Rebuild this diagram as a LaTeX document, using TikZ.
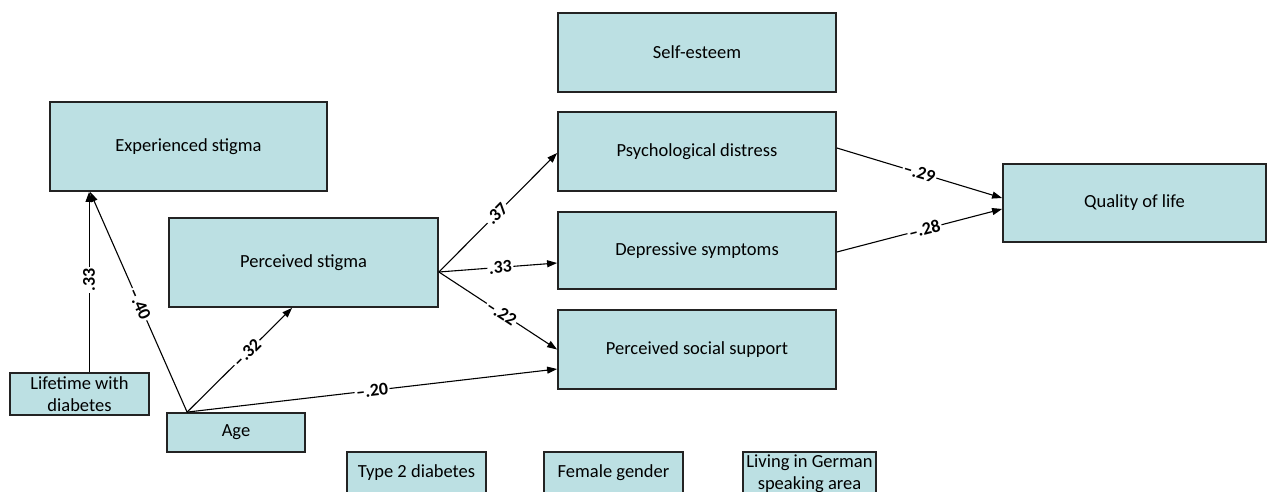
\documentclass[tikz,border=0pt]{standalone}
\usepackage{fontspec}
\setmainfont{Carlito}[BoldFont={Carlito Bold}]
\usetikzlibrary{arrows.meta}
\definecolor{boxfill}{RGB}{188,224,227}
\definecolor{boxline}{RGB}{35,35,35}
\begin{document}
\begin{tikzpicture}[x=1pt,y=-1pt,
  box/.style={draw=boxline, line width=1.8pt, fill=boxfill, inner sep=0pt, align=center,
    font=\fontsize{18.5}{22}\selectfont},
  conn/.style={draw=black, line width=1.1pt, -{Triangle[length=10pt,width=7pt]}},
  lbl/.style={fill=white, inner sep=1.5pt, sloped, font=\fontsize{18}{18}\selectfont\bfseries}]
\useasboundingbox (0,0) rectangle (1269,492);
\node[box, minimum width=278pt, minimum height=79pt] (self) at (697,52.5) {Self-esteem};
\node[box, minimum width=278pt, minimum height=79pt] (pd) at (697,151.5) {Psychological distress};
\node[box, minimum width=278pt, minimum height=77pt] (ds) at (697,250.5) {Depressive symptoms};
\node[box, minimum width=278pt, minimum height=79pt] (pss) at (697,349.5) {Perceived social support};
\node[box, minimum width=263pt, minimum height=78pt] (qol) at (1134.5,203) {Quality of life};
\node[box, minimum width=277pt, minimum height=89pt] (es) at (188.5,146.5) {Experienced stigma};
\node[box, minimum width=269pt, minimum height=89pt] (ps) at (303.5,262.5) {Perceived stigma};
\node[box, minimum width=139pt, minimum height=42pt] (life) at (79.5,394) {Lifetime with\\diabetes};
\node[box, minimum width=138pt, minimum height=39pt] (age) at (236,432.5) {Age};
\node[box, minimum width=139pt, minimum height=41pt] (t2d) at (416.5,472.5) {Type 2 diabetes};
\node[box, minimum width=139pt, minimum height=41pt] (fem) at (613.5,472.5) {Female gender};
\node[box, minimum width=133pt, minimum height=44pt] (liv) at (809.5,474) {Living in German\\speaking area};

\draw[conn] ([xshift=80pt]life.north west) -- node[lbl, pos=0.51] {.33} ([xshift=40pt]es.south west);
\draw[conn] ([xshift=21pt]age.north west) -- node[lbl, pos=0.49] {–.40} ([xshift=41pt]es.south west);
\draw[conn] ([xshift=21pt]age.north west) -- node[lbl, pos=0.57] {–.32} ([xshift=124pt]ps.south west);
\draw[conn] ([xshift=21pt]age.north west) -- node[lbl, pos=0.5] {–.20} ([yshift=-19.5pt]pss.west);
\draw[conn] ([yshift=-9.5pt]ps.east) -- node[lbl, pos=0.49] {.37} ([yshift=-1.5pt]pd.west);
\draw[conn] ([yshift=-9.5pt]ps.east) -- node[lbl, pos=0.52] {.33} ([yshift=-12.5pt]ds.west);
\draw[conn] ([yshift=-9.5pt]ps.east) -- node[lbl, pos=0.53] {–.22} (pss.west);
\draw[conn] ([yshift=3.5pt]pd.east) -- node[lbl, pos=0.5] {–.29} ([yshift=5pt]qol.west);
\draw[conn] ([yshift=-1.5pt]ds.east) -- node[lbl, pos=0.53] {–.28} ([yshift=-6pt]qol.west);
\end{tikzpicture}
\end{document}
